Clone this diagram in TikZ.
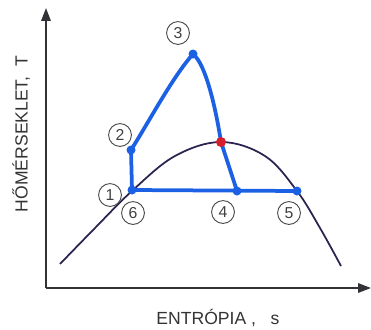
\documentclass[tikz,border=0pt]{standalone}
\usepackage{fontspec}
\setmainfont{Liberation Sans}
\usetikzlibrary{arrows.meta,positioning}

\definecolor{cycleblue}{RGB}{28,96,228}
\definecolor{domeink}{RGB}{45,35,80}
\definecolor{critred}{RGB}{215,30,45}
\definecolor{axisgray}{RGB}{50,50,55}

\tikzset{
	axis/.style={line width=1.6pt, axisgray, -{Triangle[length=11pt,width=8pt]}},
	dome/.style={line width=1.5pt, domeink},
	cycle/.style={line width=3.2pt, cycleblue, line join=round, line cap=round},
	statelbl/.style={circle, draw=black!70, line width=0.8pt, minimum size=19.5pt,
		inner sep=0pt, font=\fontsize{13.5}{14}\selectfont, text=black!75},
	axlabel/.style={font=\fontsize{15}{16}\selectfont, text=black!80}
}

\begin{document}
\begin{tikzpicture}[x=0.03cm, y=-0.03cm]
	\useasboundingbox (0,0) rectangle (371,329);
	
	% axes
	\coordinate (o) at (46,288);
	\coordinate (ytip) at (46,8);
	\coordinate (xtip) at (371,288);
	\draw[axis] (o) -- (ytip);
	\draw[axis] (o) -- (xtip);
	
	\node[axlabel] (xlab) at (218,318) {ENTRÓPIA ,\ \ \ s};
	\node[axlabel, rotate=90] (ylab) at (21,134) {HŐMÉRSEKLET,\ \ T};
	
	% saturation dome
	\draw[dome] plot[smooth, tension=0.6] coordinates {(60,264) (95,228) (133,190) (175,156) (221,142) (265,156) (297,191) (320,228) (341,266)};
	
	% states of the cycle
	\coordinate (p1) at (132,190);
	\coordinate (p2) at (131,150);
	\coordinate (p3) at (193,54);
	\coordinate (p4) at (237,191);
	\coordinate (p5) at (297,191);
	\coordinate (kp) at (221,142);
	
	\draw[cycle] (p1) -- (p2) .. controls (150,120) and (172,78) .. (p3)
		.. controls (206,64) and (216,110) .. (kp) -- (p4);
	\draw[cycle] (p1) -- (p5);
	
	\foreach \p in {p1,p2,p3,p4,p5}
		\fill[cycleblue] (\p) circle (4.5);
	\fill[critred] (kp) circle (5);
	
	% state numbers
	\node[statelbl] (n1) at (110,195) {1};
	\node[statelbl] (n2) at (120,135) {2};
	\node[statelbl] (n3) at (178,33) {3};
	\node[statelbl] (n4) at (223,212) {4};
	\node[statelbl] (n5) at (289,213) {5};
	\node[statelbl] (n6) at (133,213) {6};
\end{tikzpicture}
\end{document}
